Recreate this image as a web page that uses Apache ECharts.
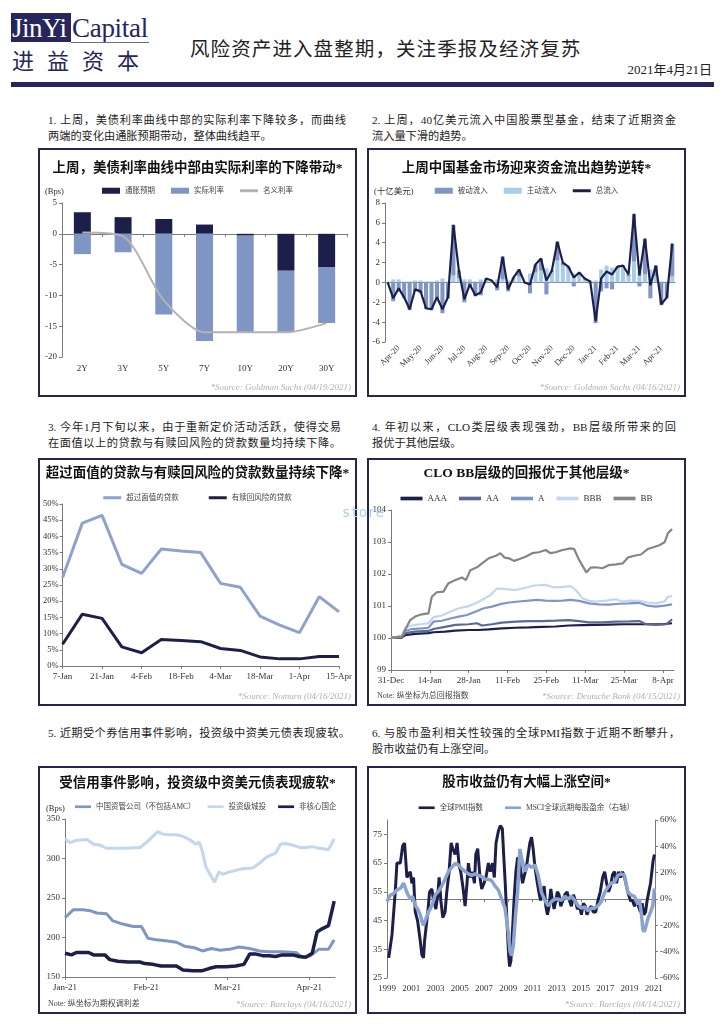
<!DOCTYPE html>
<html><head><meta charset="utf-8">
<script src="https://cdn.jsdelivr.net/npm/echarts@6/dist/echarts.min.js"></script>
<style>
body{margin:0;width:724px;height:1024px;background:#fff;position:relative;overflow:hidden;font-family:'Liberation Serif','Noto Sans CJK SC',serif;color:#222;}
.abs{position:absolute;white-space:nowrap;}
.panel{position:absolute;box-sizing:border-box;border:2px solid #25254f;width:319px;height:249px;}
.chart{width:315px;height:245px;}
.cap{position:absolute;font-size:11.2px;line-height:15.5px;color:#222;}
.cap div{white-space:nowrap;}
.cap .j{text-align:justify;text-align-last:justify;white-space:normal;}
</style></head>
<body>
<div class="abs" style="left:11px;top:13px;width:60px;height:29px;background:#26265c;color:#fff;font-size:27px;line-height:30px;letter-spacing:-0.5px;padding-left:1px;box-sizing:border-box;">JinYi</div>
<div class="abs" style="left:72px;top:13px;height:29px;color:#26265c;font-size:27px;line-height:30px;letter-spacing:-0.3px;">Capital</div>
<div class="abs" style="left:71px;top:42px;width:78px;height:1px;background:#6b6b8c;"></div>
<div class="abs" style="left:12px;top:45px;color:#26265c;font-size:22px;line-height:28px;letter-spacing:13px;font-family:'Noto Sans CJK SC';">进益资本</div>
<div class="abs" style="left:190px;top:36px;color:#222;font-size:19.5px;line-height:24px;letter-spacing:1.1px;font-family:'Noto Sans CJK SC';">风险资产进入盘整期，关注季报及经济复苏</div>
<div class="abs" style="right:12px;top:62px;color:#222;font-size:13px;line-height:16px;">2021年4月21日</div>
<div class="abs" style="left:11px;top:82px;width:703px;height:5px;background:#26265c;"></div>

<div class="cap" style="left:48px;top:113px;width:298px;"><div class="j">1. 上周，美债利率曲线中部的实际利率下降较多，而曲线</div><div>两端的变化由通胀预期带动，整体曲线趋平。</div></div>
<div class="cap" style="left:372px;top:113px;width:304px;"><div class="j">2. 上周，40亿美元流入中国股票型基金，结束了近期资金</div><div>流入量下滑的趋势。</div></div>
<div class="cap" style="left:48px;top:420px;width:293px;"><div class="j">3. 今年1月下旬以来，由于重新定价活动活跃，使得交易</div><div class="j">在面值以上的贷款与有赎回风险的贷款数量均持续下降。</div></div>
<div class="cap" style="left:372px;top:420px;width:304px;"><div class="j">4. 年初以来，CLO类层级表现强劲，BB层级所带来的回</div><div>报优于其他层级。</div></div>
<div class="cap" style="left:48px;top:726px;width:302px;"><div class="j">5. 近期受个券信用事件影响，投资级中资美元债表现疲软。</div></div>
<div class="cap" style="left:372px;top:726px;width:308px;"><div class="j">6. 与股市盈利相关性较强的全球PMI指数于近期不断攀升，</div><div>股市收益仍有上涨空间。</div></div>

<div class="panel" style="left:38px;top:148px;"><div id="c1" class="chart"></div></div>
<div class="panel" style="left:367px;top:148px;"><div id="c2" class="chart"></div></div>
<div class="panel" style="left:38px;top:458px;height:248px;"><div id="c3" class="chart" style="height:244px;"></div></div>
<div class="panel" style="left:367px;top:458px;height:248px;"><div id="c4" class="chart" style="height:244px;"></div></div>
<div class="panel" style="left:38px;top:766px;height:248px;"><div id="c5" class="chart" style="height:244px;"></div></div>
<div class="panel" style="left:367px;top:766px;height:248px;"><div id="c6" class="chart" style="height:244px;"></div></div>
<div class="abs" style="left:342px;top:504px;color:#a8d0ea;font-size:14px;font-family:'DejaVu Sans Mono';z-index:5;">store</div>

<script>
// ---------- DATA ----------
// Panel 1
const tenors = ['2Y','3Y','5Y','7Y','10Y','20Y','30Y'];
const inflationExp = [3.5, 2.7, 2.4, 1.5, -0.3, -6.0, -5.4];
const realRate = [-3.3, -3.0, -13.1, -17.4, -15.7, -10.0, -9.1];
const nominalRate = [0.2, -0.4, -10.8, -16.0, -16.0, -16.0, -14.5];

// Panel 2
const flowWeeks = ['2020-04-15','2020-04-22','2020-04-29','2020-05-06','2020-05-13','2020-05-20','2020-05-27','2020-06-03','2020-06-10','2020-06-17','2020-06-24','2020-07-01','2020-07-08','2020-07-15','2020-07-22','2020-07-29','2020-08-05','2020-08-12','2020-08-19','2020-08-26','2020-09-02','2020-09-09','2020-09-16','2020-09-23','2020-09-30','2020-10-07','2020-10-14','2020-10-21','2020-10-28','2020-11-04','2020-11-11','2020-11-18','2020-11-25','2020-12-02','2020-12-09','2020-12-16','2020-12-23','2020-12-30','2021-01-06','2021-01-13','2021-01-20','2021-01-27','2021-02-03','2021-02-10','2021-02-17','2021-02-24','2021-03-03','2021-03-10','2021-03-17','2021-03-24','2021-03-31','2021-04-07','2021-04-14'];
const flowTickLabels = ['Apr-20','May-20','Jun-20','Jul-20','Aug-20','Sep-20','Oct-20','Nov-20','Dec-20','Jan-21','Feb-21','Mar-21','Apr-21'];
const passiveFlow = [-0.1,-1.9,-0.9,-1.6,-2.8,-0.9,-1.1,-2.7,-2.8,-1.7,-3.1,-1.6,5.1,0.8,-2.0,-0.5,-1.4,-1.3,0.1,0.0,-0.8,2.3,-0.9,0.1,0.7,-0.1,-1.1,0.8,1.2,-1.2,0.2,1.9,0.3,0.2,-0.4,0.3,0.1,-0.1,-4.1,-0.9,-0.6,-0.7,0.2,0.1,0.2,4.8,-0.4,3.6,-1.6,1.1,-2.3,-1.6,3.3];
const activeFlow = [0.1,0.3,0.3,0.1,0.1,0.2,0.2,0.1,0.1,0.2,0.4,0.1,0.7,0.4,0.3,0.3,0.1,0.3,0.3,0.2,0.3,0.3,0.2,0.4,0.6,0.1,0.9,1.0,1.2,1.4,1.0,2.2,1.7,1.4,0.9,0.7,0.3,0.2,0.2,1.3,1.7,1.5,1.4,1.6,0.6,2.1,1.1,0.8,1.3,0.6,0.1,0.1,0.6];
const totalFlow = [0.0,-1.6,-0.6,-1.5,-2.7,-0.7,-0.9,-2.6,-2.7,-1.5,-2.7,-1.5,5.8,1.2,-1.7,-0.2,-1.3,-1.0,0.4,0.2,-0.5,2.6,-0.7,0.5,1.3,0.0,-0.2,1.8,2.4,0.2,1.2,4.1,2.0,1.6,0.5,1.0,0.4,0.1,-3.9,0.4,1.1,0.8,1.6,1.7,0.8,6.9,0.7,4.4,-0.3,1.7,-2.2,-1.5,3.9];

// Panel 3
const loanDates = ['7-Jan','14-Jan','21-Jan','28-Jan','4-Feb','11-Feb','18-Feb','25-Feb','4-Mar','11-Mar','18-Mar','25-Mar','1-Apr','8-Apr','15-Apr'];
const abovePar = [27.3,44.1,46.5,31.4,28.6,36.1,35.5,35.0,25.5,24.3,15.4,12.6,10.3,21.4,16.7];
const callRisk = [6.7,16.0,14.7,5.9,4.1,8.2,7.9,7.5,5.4,4.8,2.8,2.2,2.2,2.9,2.9];

// Panel 4 (x = days since 31-Dec)
const cloTickLabels = ['31-Dec','14-Jan','28-Jan','11-Feb','25-Feb','11-Mar','25-Mar','8-Apr'];
const cloAAA = [[0,100.01],[3.9,100.01],[5.1,100.09],[8.7,100.13],[13.5,100.15],[15.3,100.18],[19.5,100.20],[23.2,100.23],[28.0,100.25],[31.6,100.25],[35.2,100.27],[40.0,100.30],[44.9,100.32],[49.7,100.33],[54.5,100.35],[59.3,100.36],[64.2,100.39],[69.0,100.40],[73.8,100.41],[78.6,100.42],[83.5,100.43],[88.3,100.43],[93.1,100.43],[97.9,100.43],[101.3,100.46]];
const cloAA = [[0,100.01],[3.9,100.03],[5.1,100.15],[8.7,100.20],[13.5,100.22],[15.3,100.28],[19.5,100.35],[23.2,100.41],[28.0,100.43],[31.0,100.46],[32.8,100.39],[36.4,100.43],[40.0,100.48],[44.9,100.51],[49.7,100.53],[54.5,100.53],[59.3,100.54],[64.2,100.56],[67.8,100.53],[71.4,100.49],[76.2,100.49],[81.1,100.51],[85.9,100.52],[89.5,100.53],[91.9,100.43],[95.5,100.41],[99.2,100.43],[101.3,100.58]];
const cloA = [[0,100.01],[3.9,100.05],[5.1,100.22],[7.5,100.28],[11.1,100.30],[13.5,100.32],[15.3,100.51],[18.3,100.54],[21.4,100.61],[24.4,100.67],[27.4,100.72],[30.4,100.82],[33.4,100.93],[36.4,100.98],[39.4,101.06],[42.5,101.11],[46.1,101.14],[49.7,101.17],[52.7,101.19],[55.7,101.17],[58.7,101.16],[61.8,101.17],[64.8,101.19],[67.8,101.16],[71.4,101.08],[75.0,101.05],[78.6,101.04],[82.3,101.07],[85.9,101.08],[89.5,101.10],[92.5,101.01],[95.5,100.98],[98.6,101.01],[101.3,101.05]];
const cloBBB = [[0,100.01],[3.9,100.05],[5.1,100.32],[7.5,100.39],[10.5,100.43],[13.5,100.46],[15.3,100.65],[18.3,100.70],[21.4,100.82],[24.4,100.93],[27.4,100.98],[30.4,101.08],[33.4,101.22],[35.8,101.34],[38.2,101.55],[41.3,101.53],[44.9,101.50],[48.5,101.57],[51.5,101.64],[55.7,101.66],[58.7,101.58],[61.8,101.60],[64.8,101.62],[66.6,101.50],[69.0,101.24],[71.4,101.16],[73.8,101.14],[77.4,101.17],[81.1,101.21],[83.5,101.14],[85.9,101.17],[89.5,101.16],[92.5,101.11],[95.5,101.08],[98.6,101.14],[99.8,101.29],[101.3,101.31]];
const cloBB = [[0,100.01],[3.9,100.04],[5.1,100.25],[6.9,100.56],[8.7,100.67],[11.1,100.74],[13.5,100.77],[14.7,101.29],[16.5,101.43],[18.9,101.45],[20.7,101.71],[23.2,101.81],[25.6,101.89],[27.0,101.81],[28.6,102.12],[31.0,102.21],[32.8,102.33],[35.2,102.49],[37.6,102.56],[39.4,102.65],[41.0,102.51],[42.5,102.49],[44.3,102.41],[46.1,102.46],[48.5,102.54],[50.9,102.65],[53.3,102.68],[55.7,102.75],[57.5,102.65],[59.3,102.68],[61.8,102.75],[64.8,102.80],[66.0,102.78],[67.8,102.44],[70.4,102.05],[72.0,102.20],[73.8,102.21],[76.2,102.18],[78.6,102.28],[81.1,102.30],[83.5,102.33],[85.3,102.51],[87.7,102.57],[90.1,102.61],[92.5,102.78],[94.3,102.83],[96.7,102.90],[98.6,102.99],[99.8,103.27],[101.3,103.41]];

// Panel 5 (x = months since 1 Jan 2021)
const spreadTickLabels = ['Jan-21','Feb-21','Mar-21','Apr-21'];
const amcSpread = [[0,225],[0.10,235],[0.22,235],[0.31,234],[0.39,231],[0.51,230],[0.59,221],[0.71,217],[0.84,214],[0.94,214],[1.02,199],[1.12,197],[1.24,196],[1.37,194],[1.47,189],[1.59,187],[1.69,183],[1.80,186],[1.90,184],[2.02,185],[2.14,188],[2.27,186],[2.39,183],[2.51,182],[2.67,182],[2.84,181],[2.92,175],[3.02,177],[3.12,185],[3.24,185],[3.31,197]];
const lgfvSpread = [[0,325],[0.06,320],[0.14,323],[0.27,324],[0.35,318],[0.43,317],[0.51,313],[0.63,313],[0.76,313],[0.92,314],[1.00,320],[1.08,328],[1.14,334],[1.20,331],[1.29,330],[1.37,330],[1.45,328],[1.53,324],[1.61,318],[1.65,321],[1.69,309],[1.73,290],[1.80,277],[1.84,270],[1.89,283],[1.94,280],[2.02,283],[2.10,285],[2.18,287],[2.31,288],[2.39,294],[2.47,301],[2.59,307],[2.65,318],[2.71,319],[2.80,317],[2.88,314],[2.96,314],[3.04,315],[3.12,313],[3.20,312],[3.24,311],[3.31,325]];
const soeSpread = [[0,180],[0.08,178],[0.14,181],[0.29,181],[0.35,178],[0.49,178],[0.55,172],[0.65,170],[0.78,169],[0.92,169],[0.98,167],[1.08,166],[1.18,164],[1.37,164],[1.45,159],[1.57,158],[1.69,158],[1.78,161],[1.86,163],[1.98,163],[2.10,164],[2.20,166],[2.27,179],[2.35,179],[2.43,177],[2.51,177],[2.59,176],[2.67,178],[2.80,178],[2.88,176],[2.96,175],[3.04,180],[3.10,207],[3.16,211],[3.24,215],[3.31,246]];

// Panel 6 (x = year)
const pmiYears = [1999,2001,2003,2005,2007,2009,2011,2013,2015,2017,2019,2021];
const globalPMI = [[1999.14,32],[1999.41,40],[1999.68,55],[1999.82,65],[2000.10,65],[2000.29,71],[2000.45,72],[2000.64,60],[2000.92,62],[2001.05,58],[2001.19,60],[2001.33,48],[2001.52,45],[2001.74,38],[2001.88,33],[2002.01,32],[2002.10,38],[2002.23,43],[2002.37,48],[2002.51,55],[2002.70,56],[2002.84,52],[2003.03,49],[2003.19,54],[2003.30,60],[2003.44,52],[2003.60,46],[2003.79,48],[2003.93,55],[2004.12,62],[2004.29,72],[2004.42,70],[2004.62,68],[2004.78,72],[2004.95,64],[2005.08,62],[2005.25,57],[2005.44,50],[2005.60,58],[2005.71,65],[2005.88,60],[2006.04,62],[2006.21,58],[2006.32,68],[2006.48,70],[2006.67,60],[2006.81,56],[2007.00,58],[2007.16,60],[2007.36,65],[2007.52,62],[2007.71,65],[2007.85,60],[2007.99,72],[2008.18,76],[2008.34,78],[2008.51,77],[2008.62,68],[2008.75,58],[2008.89,45],[2009.03,33],[2009.11,29],[2009.22,31],[2009.33,40],[2009.49,53],[2009.63,62],[2009.77,67],[2009.90,66],[2010.04,62],[2010.18,58],[2010.34,61],[2010.48,63],[2010.64,68],[2010.78,72],[2010.92,74],[2011.05,70],[2011.19,64],[2011.36,59],[2011.52,55],[2011.66,52],[2011.82,55],[2011.96,57],[2012.10,50],[2012.23,47],[2012.37,50],[2012.51,56],[2012.64,52],[2012.78,49],[2012.92,52],[2013.05,55],[2013.19,54],[2013.33,50],[2013.47,50],[2013.66,54],[2013.85,55],[2014.04,52],[2014.21,50],[2014.37,54],[2014.53,52],[2014.70,49],[2014.89,50],[2015.03,47],[2015.19,51],[2015.36,50],[2015.49,47],[2015.68,49],[2015.85,50],[2016.01,48],[2016.21,48],[2016.40,52],[2016.59,55],[2016.78,60],[2016.95,62],[2017.11,58],[2017.27,55],[2017.44,57],[2017.60,61],[2017.77,62],[2017.93,58],[2018.10,62],[2018.26,60],[2018.42,62],[2018.59,60],[2018.75,57],[2018.92,54],[2019.08,52],[2019.25,52],[2019.41,50],[2019.58,52],[2019.74,50],[2019.90,48],[2020.04,51],[2020.18,47],[2020.32,48],[2020.45,52],[2020.59,55],[2020.73,58],[2020.84,62],[2020.95,66],[2021.05,68]];
const msciEPS = [[1999.00,-2],[1999.27,3],[1999.55,4],[1999.82,7],[2000.10,8],[2000.37,12],[2000.64,5],[2000.92,0],[2001.11,2],[2001.33,-5],[2001.55,-8],[2001.74,-12],[2001.88,-17],[2002.01,-20],[2002.21,-15],[2002.42,-10],[2002.70,-5],[2002.97,3],[2003.25,6],[2003.52,10],[2003.79,15],[2004.07,21],[2004.34,24],[2004.62,27],[2004.89,26],[2005.16,23],[2005.44,21],[2005.71,19],[2005.99,18],[2006.26,19],[2006.53,18],[2006.81,17],[2007.08,15],[2007.36,15],[2007.63,14],[2007.90,10],[2008.18,7],[2008.45,0],[2008.73,-7],[2009.00,-25],[2009.14,-40],[2009.27,-43],[2009.41,-36],[2009.60,-12],[2009.77,5],[2009.96,38],[2010.10,31],[2010.37,21],[2010.64,26],[2010.92,24],[2011.19,26],[2011.47,18],[2011.74,5],[2012.01,-1],[2012.29,-5],[2012.56,-2],[2012.84,0],[2013.11,0],[2013.38,-1],[2013.66,2],[2013.93,0],[2014.21,2],[2014.48,-1],[2014.75,-5],[2015.03,-7],[2015.30,-6],[2015.58,-9],[2015.85,-7],[2016.12,-7],[2016.40,-5],[2016.67,-2],[2016.95,5],[2017.22,9],[2017.49,12],[2017.77,13],[2018.04,18],[2018.32,19],[2018.59,18],[2018.86,5],[2019.14,3],[2019.41,2],[2019.68,-4],[2019.82,0],[2019.96,-10],[2020.10,-23],[2020.23,-25],[2020.37,-20],[2020.51,-15],[2020.73,-10],[2020.92,-5],[2021.05,8]];

// ---------- STYLE ----------
const FONT = "'Liberation Serif','Noto Sans CJK SC',serif";
const NAVY = '#1d1f4b', STEEL = '#7f96c4', LIGHT = '#a9cde8', PALE = '#c3d6ef', GRAY = '#b3b3b3', DGRAY = '#858585', SLATE = '#5c6996';
const AX = '#7a7a7a';
const LINE_ICON = 'path://M0,0L24,0L24,4L0,4Z';
const lbl = (extra) => Object.assign({fontSize: 9, color: '#333', fontFamily: FONT}, extra || {});
const ttl = (text, top) => ({text, left: 'center', top, textStyle: {fontSize: 13.5, fontWeight: 'bold', color: '#111', fontFamily: FONT}});
const leg = (top, data, extra) => Object.assign({top, left: 'center', data, itemWidth: 18, itemHeight: 6, itemGap: 16,
  textStyle: {fontSize: 7.5, color: '#444', fontFamily: FONT}}, extra || {});
const li = (name) => ({name, icon: LINE_ICON});
const src = (text) => ({type: 'text', right: 4, bottom: 3, style: {text, fill: '#b0b0b0', fontSize: 9, fontStyle: 'italic', fontFamily: FONT}});
const note = (text) => ({type: 'text', left: 8, bottom: 4, style: {text, fill: '#444', fontSize: 8, fontFamily: FONT}});
const gtext = (text, left, top) => ({type: 'text', left, top, style: {text, fill: '#333', fontSize: 8.5, fontFamily: FONT}});
const yAx = (o) => Object.assign({type: 'value', axisLine: {show: true, lineStyle: {color: AX}}, axisTick: {show: true, length: 3, lineStyle: {color: AX}}, splitLine: {show: false}, axisLabel: lbl({margin: 5})}, o);
const ln = (name, data, color, width, extra) => Object.assign({name, type: 'line', data, symbol: 'none', showSymbol: false, itemStyle: {color}, lineStyle: {color, width}}, extra || {});

function mk(id, opt) { const c = echarts.init(document.getElementById(id)); opt.animation = false; c.setOption(opt); }

// Panel 1
mk('c1', {
  title: ttl('上周，美债利率曲线中部由实际利率的下降带动*', 7),
  legend: leg(32, [{name: '通胀预期', icon: 'rect'}, {name: '实际利率', icon: 'rect'}, li('名义利率')]),
  grid: {left: 22, right: 8, top: 53, bottom: 38},
  xAxis: [
    {type: 'category', data: tenors, axisLine: {show: false, onZero: false}, axisTick: {show: false}, axisLabel: lbl({margin: 7})},
    {type: 'category', data: tenors, position: 'bottom', axisLine: {onZero: true, lineStyle: {color: AX}}, axisTick: {show: true, length: 3, lineStyle: {color: AX}}, axisLabel: {show: false}}
  ],
  yAxis: yAx({min: -20, max: 5, interval: 5}),
  series: [
    {name: '通胀预期', type: 'bar', stack: 't', data: inflationExp, barWidth: 17, itemStyle: {color: NAVY}},
    {name: '实际利率', type: 'bar', stack: 't', data: realRate, barWidth: 17, itemStyle: {color: STEEL}},
    ln('名义利率', nominalRate, GRAY, 2, {smooth: 0.25, z: 5})
  ],
  graphic: [gtext('(Bps)', 5, 38), src('*Source: Goldman Sachs (04/19/2021)')]
});

// Panel 2
mk('c2', {
  title: ttl('上周中国基金市场迎来资金流出趋势逆转*', 7),
  legend: leg(32, [{name: '被动流入', icon: 'rect'}, {name: '主动流入', icon: 'rect'}, li('总流入')]),
  grid: {left: 16, right: 9, top: 53, bottom: 53},
  xAxis: [
    {type: 'category', data: flowWeeks, axisLine: {show: false, onZero: false}, axisTick: {show: false},
     axisLabel: lbl({fontSize: 8.5, rotate: 45, margin: 5, interval: (i) => i % 4 === 2, formatter: (v, i) => flowTickLabels[(i - 2) / 4] || ''})},
    {type: 'category', data: flowWeeks, position: 'bottom', axisLine: {onZero: true, lineStyle: {color: AX}}, axisTick: {show: false}, axisLabel: {show: false}}
  ],
  yAxis: yAx({min: -6, max: 8, interval: 2}),
  series: [
    {name: '主动流入', type: 'bar', stack: 'f', data: activeFlow, barWidth: '75%', itemStyle: {color: LIGHT}},
    {name: '被动流入', type: 'bar', stack: 'f', data: passiveFlow, barWidth: '75%', itemStyle: {color: STEEL}},
    ln('总流入', totalFlow, NAVY, 2.2, {z: 5})
  ],
  graphic: [gtext('(十亿美元)', 5, 38), src('*Source: Goldman Sachs (04/16/2021)')]
});

// Panel 3
mk('c3', {
  title: ttl('超过面值的贷款与有赎回风险的贷款数量持续下降*', 2),
  legend: leg(29, [li('超过面值的贷款'), li('有赎回风险的贷款')], {itemGap: 30}),
  grid: {left: 22, right: 13, top: 44, bottom: 38},
  xAxis: {type: 'category', data: loanDates, boundaryGap: false, axisLine: {lineStyle: {color: AX}},
    axisTick: {show: true, length: 3, interval: 1, lineStyle: {color: AX}}, axisLabel: lbl({interval: 1, margin: 6})},
  yAxis: yAx({min: 0, max: 50, interval: 5, axisLabel: lbl({margin: 4, fontSize: 8.5, formatter: '{value}%'})}),
  series: [
    ln('超过面值的贷款', abovePar, '#8ea2cc', 3),
    ln('有赎回风险的贷款', callRisk, NAVY, 3)
  ],
  graphic: [src('*Source: Nomura (04/16/2021)')]
});

// Panel 4
mk('c4', {
  title: ttl('CLO BB层级的回报优于其他层级*', 2),
  legend: leg(29, ['AAA', 'AA', 'A', 'BBB', 'BB'].map(li), {itemGap: 12, itemWidth: 22, textStyle: {fontSize: 9, color: '#333', fontFamily: FONT}}),
  grid: {left: 22, right: 10, top: 50, bottom: 34},
  xAxis: {type: 'value', min: 0, max: 102, axisLine: {lineStyle: {color: AX}}, splitLine: {show: false},
    axisTick: {show: true, length: 3, customValues: [0,14,28,42,56,70,84,98], lineStyle: {color: AX}},
    axisLabel: lbl({margin: 6, customValues: [0,14,28,42,56,70,84,98], formatter: (v) => cloTickLabels[Math.round(v / 14)]})},
  yAxis: yAx({min: 99, max: 104, interval: 1}),
  series: [
    ln('AAA', cloAAA, NAVY, 2.2),
    ln('AA', cloAA, SLATE, 2.2),
    ln('A', cloA, STEEL, 2.2),
    ln('BBB', cloBBB, PALE, 2.2),
    ln('BB', cloBB, DGRAY, 2.2)
  ],
  graphic: [note('Note: 纵坐标为总回报指数'), src('*Source: Deutsche Bank (04/15/2021)')]
});

// Panel 5
mk('c5', {
  title: ttl('受信用事件影响，投资级中资美元债表现疲软*', 4),
  legend: leg(30, ['中国资管公司（不包括AMC）', '投资级城投', '非核心国企'].map(li), {itemGap: 12, itemWidth: 16, left: 30}),
  grid: {left: 25, right: 20, top: 51, bottom: 35},
  xAxis: {type: 'value', min: 0, max: 3.32, axisLine: {lineStyle: {color: AX}}, splitLine: {show: false},
    axisTick: {show: true, length: 3, customValues: [0,1,2,3], lineStyle: {color: AX}},
    axisLabel: lbl({margin: 6, customValues: [0,1,2,3], formatter: (v) => spreadTickLabels[Math.round(v)]})},
  yAxis: yAx({min: 150, max: 350, interval: 50}),
  series: [
    ln('中国资管公司（不包括AMC）', amcSpread, STEEL, 3),
    ln('投资级城投', lgfvSpread, PALE, 3),
    ln('非核心国企', soeSpread, NAVY, 3.5)
  ],
  graphic: [gtext('(Bps)', 6, 37), note('Note: 纵坐标为期权调利差'), src('*Source: Barclays (04/16/2021)')]
});

// Panel 6
mk('c6', {
  title: ttl('股市收益仍有大幅上涨空间*', 3),
  legend: leg(31, [li('全球PMI指数'), li('MSCI全球远期每股盈余（右轴）')], {itemGap: 22, itemWidth: 16}),
  grid: {left: 18, right: 29, top: 52, bottom: 34},
  xAxis: {type: 'value', min: 1999, max: 2021.1, axisLine: {lineStyle: {color: AX}}, splitLine: {show: false},
    axisTick: {show: true, length: 3, customValues: pmiYears, lineStyle: {color: AX}},
    axisLabel: lbl({margin: 6, customValues: pmiYears, formatter: (v) => String(Math.round(v))})},
  yAxis: [
    yAx({min: 25, max: 80, axisTick: {show: true, length: 3, customValues: [25,35,45,55,65,75], lineStyle: {color: AX}},
      axisLabel: lbl({margin: 5, customValues: [25,35,45,55,65,75]})}),
    yAx({min: -60, max: 60, interval: 20, position: 'right', axisLabel: lbl({margin: 5, formatter: '{value}%'})})
  ],
  series: [
    ln('全球PMI指数', globalPMI, NAVY, 3),
    ln('MSCI全球远期每股盈余（右轴）', msciEPS, '#8aa3cf', 3.5, {yAxisIndex: 1})
  ],
  graphic: [src('*Source: Barclays (04/14/2021)')]
});
</script>
</body></html>
